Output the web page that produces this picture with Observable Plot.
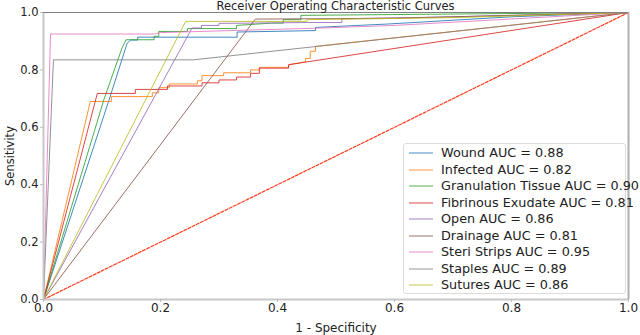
<!DOCTYPE html>
<html>
<head>
<meta charset="utf-8">
<script src="https://cdn.jsdelivr.net/npm/d3@7"></script>
<script src="https://cdn.jsdelivr.net/npm/@observablehq/plot@0.6"></script>
<style>
  html, body { margin: 0; padding: 0; background: #fff; }
  #wrap { position: relative; width: 640px; height: 335px; font-family: "DejaVu Sans", sans-serif; overflow: hidden; }
  #title { position: absolute; left: 43px; width: 585px; top: 0px; text-align: center; font-size: 11.5px; line-height: 12px; color: #222; }
  #legend { position: absolute; left: 403px; top: 143px; width: 223px; height: 151px; border: 1px solid #dcdcdc; border-radius: 3px; background: rgba(255,255,255,0.85); box-sizing: border-box; }
  .row { position: absolute; left: 0; height: 16px; font-size: 12.8px; color: #222; white-space: nowrap; }
  .row svg { position: absolute; left: 4px; top: 0; }
  .row span { position: absolute; left: 37px; top: 0px; line-height: 16px; }
</style>
</head>
<body>
<div id="wrap">
  <div id="chart"></div>
  <div id="title"></div>
  <div id="legend"></div>
</div>
<script>
const titleText = "Receiver Operating Characteristic Curves";
const xLabel = "1 - Specificity";
const yLabel = "Sensitivity";
const ticks = [0, 0.2, 0.4, 0.6, 0.8, 1.0];

const names = ["Wound", "Infected", "Granulation Tissue", "Fibrinous Exudate", "Open", "Drainage", "Steri Strips", "Staples", "Sutures"];
const aucs = ["0.88", "0.82", "0.90", "0.81", "0.86", "0.81", "0.95", "0.89", "0.86"];
const colors = ["#1f77b4", "#ff7f0e", "#2ca02c", "#d62728", "#9467bd", "#8c564b", "#e377c2", "#7f7f7f", "#bcbd22"];

const fprWound = [0, 0.112, 0.143, 0.149, 0.161, 0.161, 0.331, 0.331, 0.465, 0.465, 0.59, 0.8, 1];
const tprWound = [0, 0.695, 0.893, 0.904, 0.904, 0.914, 0.914, 0.932, 0.937, 0.948, 0.96, 0.985, 1];

const fprInfected = [0, 0.08, 0.116, 0.116, 0.186, 0.186, 0.197, 0.197, 0.215, 0.215, 0.263, 0.263, 0.271, 0.271, 0.308, 0.308, 0.354, 0.354, 0.369, 0.369, 0.419, 0.419, 0.448, 0.448, 0.456, 0.456, 0.465, 0.465, 1];
const tprInfected = [0, 0.69, 0.69, 0.707, 0.707, 0.72, 0.72, 0.738, 0.738, 0.751, 0.751, 0.762, 0.762, 0.78, 0.78, 0.79, 0.79, 0.80, 0.80, 0.809, 0.809, 0.818, 0.828, 0.84, 0.84, 0.865, 0.865, 0.882, 1];

const fprGranulation = [0, 0.103, 0.134, 0.141, 0.189, 0.189, 0.197, 0.197, 0.246, 0.246, 0.33, 0.33, 0.39, 0.41, 0.41, 0.44, 0.44, 1];
const tprGranulation = [0, 0.695, 0.875, 0.905, 0.905, 0.917, 0.917, 0.934, 0.934, 0.944, 0.944, 0.955, 0.963, 0.963, 0.975, 0.975, 0.99, 1];

const fprFibrinous = [0, 0.092, 0.157, 0.157, 0.212, 0.212, 0.271, 0.271, 0.30, 0.30, 0.33, 0.33, 0.354, 0.354, 0.369, 0.369, 0.419, 0.419, 1];
const tprFibrinous = [0, 0.718, 0.718, 0.732, 0.732, 0.744, 0.744, 0.755, 0.755, 0.765, 0.765, 0.775, 0.775, 0.788, 0.788, 0.806, 0.806, 0.818, 1];

const fprOpen = [0, 0.254, 0.27, 0.27, 0.30, 0.30, 0.45, 0.51, 0.51, 0.7, 1];
const tprOpen = [0, 0.946, 0.946, 0.955, 0.955, 0.962, 0.965, 0.965, 0.978, 0.985, 1];

const fprDrainage = [0, 0.362, 0.6, 1];
const tprDrainage = [0, 0.977, 0.98, 1];

const fprSteri = [0, 0.012, 0.19, 0.2, 0.46, 0.6, 1];
const tprSteri = [0, 0.925, 0.925, 0.93, 0.945, 0.955, 1];

const fprStaples = [0, 0.017, 0.256, 1];
const tprStaples = [0, 0.835, 0.835, 1];

const fprSutures = [0, 0.243, 0.45, 0.45, 0.7, 1];
const tprSutures = [0, 0.969, 0.969, 0.975, 0.982, 1];

const chanceX = [0, 1];
const chanceY = [0, 1];

const fprs = [fprWound, fprInfected, fprGranulation, fprFibrinous, fprOpen, fprDrainage, fprSteri, fprStaples, fprSutures];
const tprs = [tprWound, tprInfected, tprGranulation, tprFibrinous, tprOpen, tprDrainage, tprSteri, tprStaples, tprSutures];

const rows = [];
names.forEach((n, i) => fprs[i].forEach((f, j) => rows.push({series: n, fpr: f, tpr: tprs[i][j]})));
const chance = chanceX.map((x, i) => ({x, y: chanceY[i]}));

const plot = Plot.plot({
  width: 640,
  height: 335,
  marginLeft: 43,
  marginRight: 12,
  marginTop: 12,
  marginBottom: 36,
  style: {fontFamily: "DejaVu Sans, sans-serif", fontSize: "11.5px", color: "#222", background: "white"},
  x: {domain: [0, 1]},
  y: {domain: [0, 1]},
  color: {domain: names, range: colors},
  marks: [
    Plot.line(chance, {x: "x", y: "y", stroke: "#ff3b1c", strokeWidth: 1.2, strokeDasharray: "3,1.6"}),
    Plot.line(rows, {x: "fpr", y: "tpr", z: "series", stroke: "series", strokeWidth: 1, strokeOpacity: 0.85}),
    Plot.ruleX([0], {stroke: "#c8c8c8", strokeWidth: 2}),
    Plot.ruleY([0], {stroke: "#c8c8c8", strokeWidth: 2}),
    Plot.ruleX([1], {stroke: "#b0b0b0", strokeWidth: 2}),
    Plot.ruleY([1], {stroke: "#808080", strokeWidth: 1}),
    Plot.axisX(ticks, {tickFormat: d3.format(".1f"), tickSize: 3, tickPadding: 1, stroke: "#bbb", fontSize: 12, label: xLabel, labelAnchor: "center", labelArrow: "none", labelOffset: 32}),
    Plot.axisY(ticks, {tickFormat: d3.format(".1f"), tickSize: 3, tickPadding: 2, stroke: "#bbb", fontSize: 11.5, label: yLabel, labelAnchor: "center", labelArrow: "none", labelOffset: 38})
  ]
});
document.getElementById("chart").appendChild(plot);
document.getElementById("title").textContent = titleText;

const legend = document.getElementById("legend");
names.forEach((n, i) => {
  const r = document.createElement("div");
  r.className = "row";
  r.style.top = (1 + i * 16.5) + "px";
  r.innerHTML = `<svg width="26" height="16"><line x1="1" x2="25" y1="8" y2="8" stroke="${colors[i]}" stroke-opacity="0.55" stroke-width="1.5"/></svg><span>${n} AUC = ${aucs[i]}</span>`;
  legend.appendChild(r);
});
</script>
</body>
</html>
